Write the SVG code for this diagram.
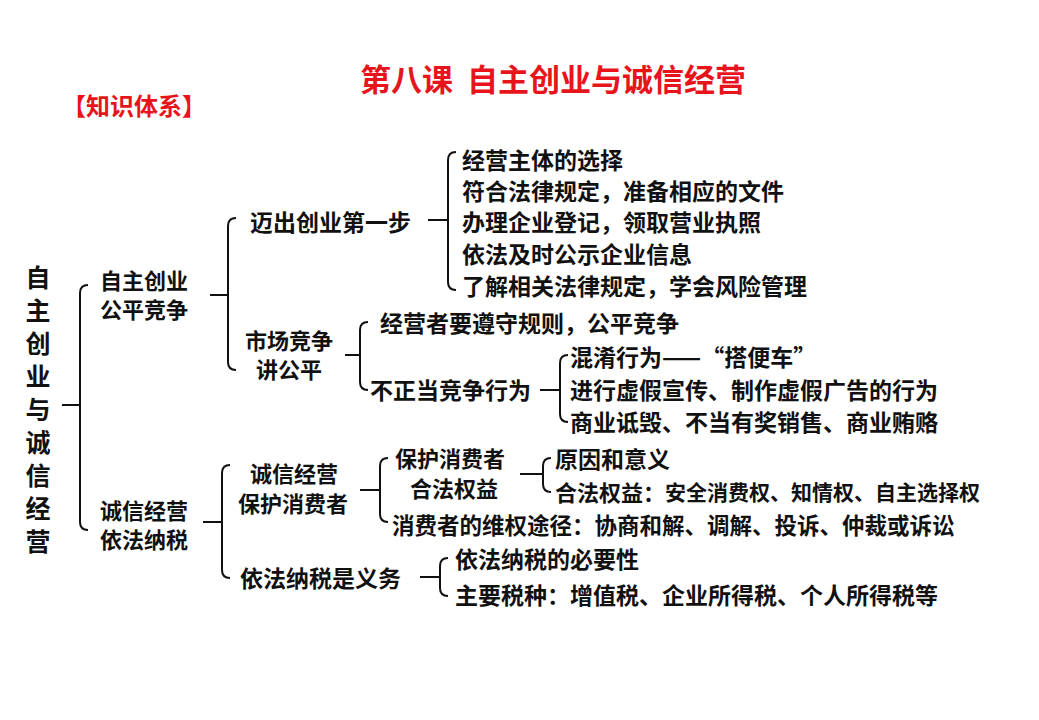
<svg xmlns="http://www.w3.org/2000/svg" width="1039" height="720" viewBox="0 0 1039 720">
<style>
text{font-family:"Noto Sans CJK SC","Liberation Sans",sans-serif;font-weight:bold;dominant-baseline:central;fill:#111}
.t{font-size:23px}
.d{font-size:22px}
.v{font-size:25px}
.red{fill:#e8141b}
.br{fill:none;stroke:#111;stroke-width:2}
</style>
<rect width="1039" height="720" fill="#fff"/>
<text class="red" x="553" y="77" font-size="31" text-anchor="middle" xml:space="preserve">第八课  自主创业与诚信经营</text>
<text class="red" x="62" y="104" font-size="24">【知识体系】</text>
<g id="root">
<text class="v" x="38" y="276" text-anchor="middle">自</text>
<text class="v" x="38" y="309" text-anchor="middle">主</text>
<text class="v" x="38" y="342" text-anchor="middle">创</text>
<text class="v" x="38" y="375" text-anchor="middle">业</text>
<text class="v" x="38" y="408" text-anchor="middle">与</text>
<text class="v" x="38" y="441" text-anchor="middle">诚</text>
<text class="v" x="38" y="474" text-anchor="middle">信</text>
<text class="v" x="38" y="507" text-anchor="middle">经</text>
<text class="v" x="38" y="540" text-anchor="middle">营</text>
</g>
<g id="connectors">
<path class="br" d="M88,285 Q80,285 80,293 L80,522 Q80,530 88,530 M62,405 L80,405"/>
<path class="br" d="M236,218 Q228,218 228,226 L228,362 Q228,370 236,370 M210,295 L228,295"/>
<path class="br" d="M456,152 Q448,152 448,160 L448,282 Q448,290 456,290 M428,220 L448,220"/>
<path class="br" d="M368,322 Q360,322 360,330 L360,382 Q360,390 368,390 M345,355 L360,355"/>
<path class="br" d="M568,355 Q560,355 560,363 L560,414 Q560,422 568,422 M540,390 L560,390"/>
<path class="br" d="M230,465 Q222,465 222,473 L222,570 Q222,578 230,578 M203,522 L222,522"/>
<path class="br" d="M388,458 Q380,458 380,466 L380,514 Q380,522 388,522 M360,490 L380,490"/>
<path class="br" d="M551,458 Q543,458 543,466 L543,484 Q543,492 551,492 M520,474 L543,474"/>
<path class="br" d="M448,558 Q440,558 440,566 L440,588 Q440,596 448,596 M420,577 L440,577"/>
</g>
<g id="n1"><text class="d" x="100" y="279">自主创业</text><text class="d" x="100" y="308">公平竞争</text></g>
<g id="n2"><text class="t" x="250" y="221">迈出创业第一步</text></g>
<g id="n2items">
<text class="t" x="462" y="159">经营主体的选择</text>
<text class="t" x="462" y="190">符合法律规定，准备相应的文件</text>
<text class="t" x="462" y="221">办理企业登记，领取营业执照</text>
<text class="t" x="462" y="253">依法及时公示企业信息</text>
<text class="t" x="462" y="285">了解相关法律规定，学会风险管理</text>
</g>
<g id="n3"><text class="d" x="245" y="339">市场竞争</text><text class="d" x="256" y="368">讲公平</text></g>
<g id="n3a"><text class="t" x="380" y="322">经营者要遵守规则，公平竞争</text></g>
<g id="n3b"><text class="t" x="370" y="389">不正当竞争行为</text></g>
<g id="n3bitems">
<text class="t" x="570" y="356">混淆行为——“搭便车”</text>
<text class="t" x="570" y="389">进行虚假宣传、制作虚假广告的行为</text>
<text class="t" x="570" y="421">商业诋毁、不当有奖销售、商业贿赂</text>
</g>
<g id="n4"><text class="d" x="100" y="509">诚信经营</text><text class="d" x="100" y="538">依法纳税</text></g>
<g id="n5"><text class="d" x="250" y="472">诚信经营</text><text class="d" x="238" y="502">保护消费者</text></g>
<g id="n6"><text class="d" x="395" y="457">保护消费者</text><text class="d" x="410" y="487">合法权益</text></g>
<g id="n6items">
<text class="t" x="555" y="458">原因和意义</text>
<text x="555" y="491"><tspan style="font-size:22px">合法权益：</tspan><tspan style="font-size:21px">安全消费权、知情权、自主选择权</tspan></text>
</g>
<g id="n7"><text class="t" x="392" y="524" style="font-size:22.5px">消费者的维权途径：协商和解、调解、投诉、仲裁或诉讼</text></g>
<g id="n8"><text class="t" x="240" y="577">依法纳税是义务</text></g>
<g id="n8items">
<text class="t" x="455" y="558">依法纳税的必要性</text>
<text class="t" x="455" y="594">主要税种：增值税、企业所得税、个人所得税等</text>
</g>
</svg>
